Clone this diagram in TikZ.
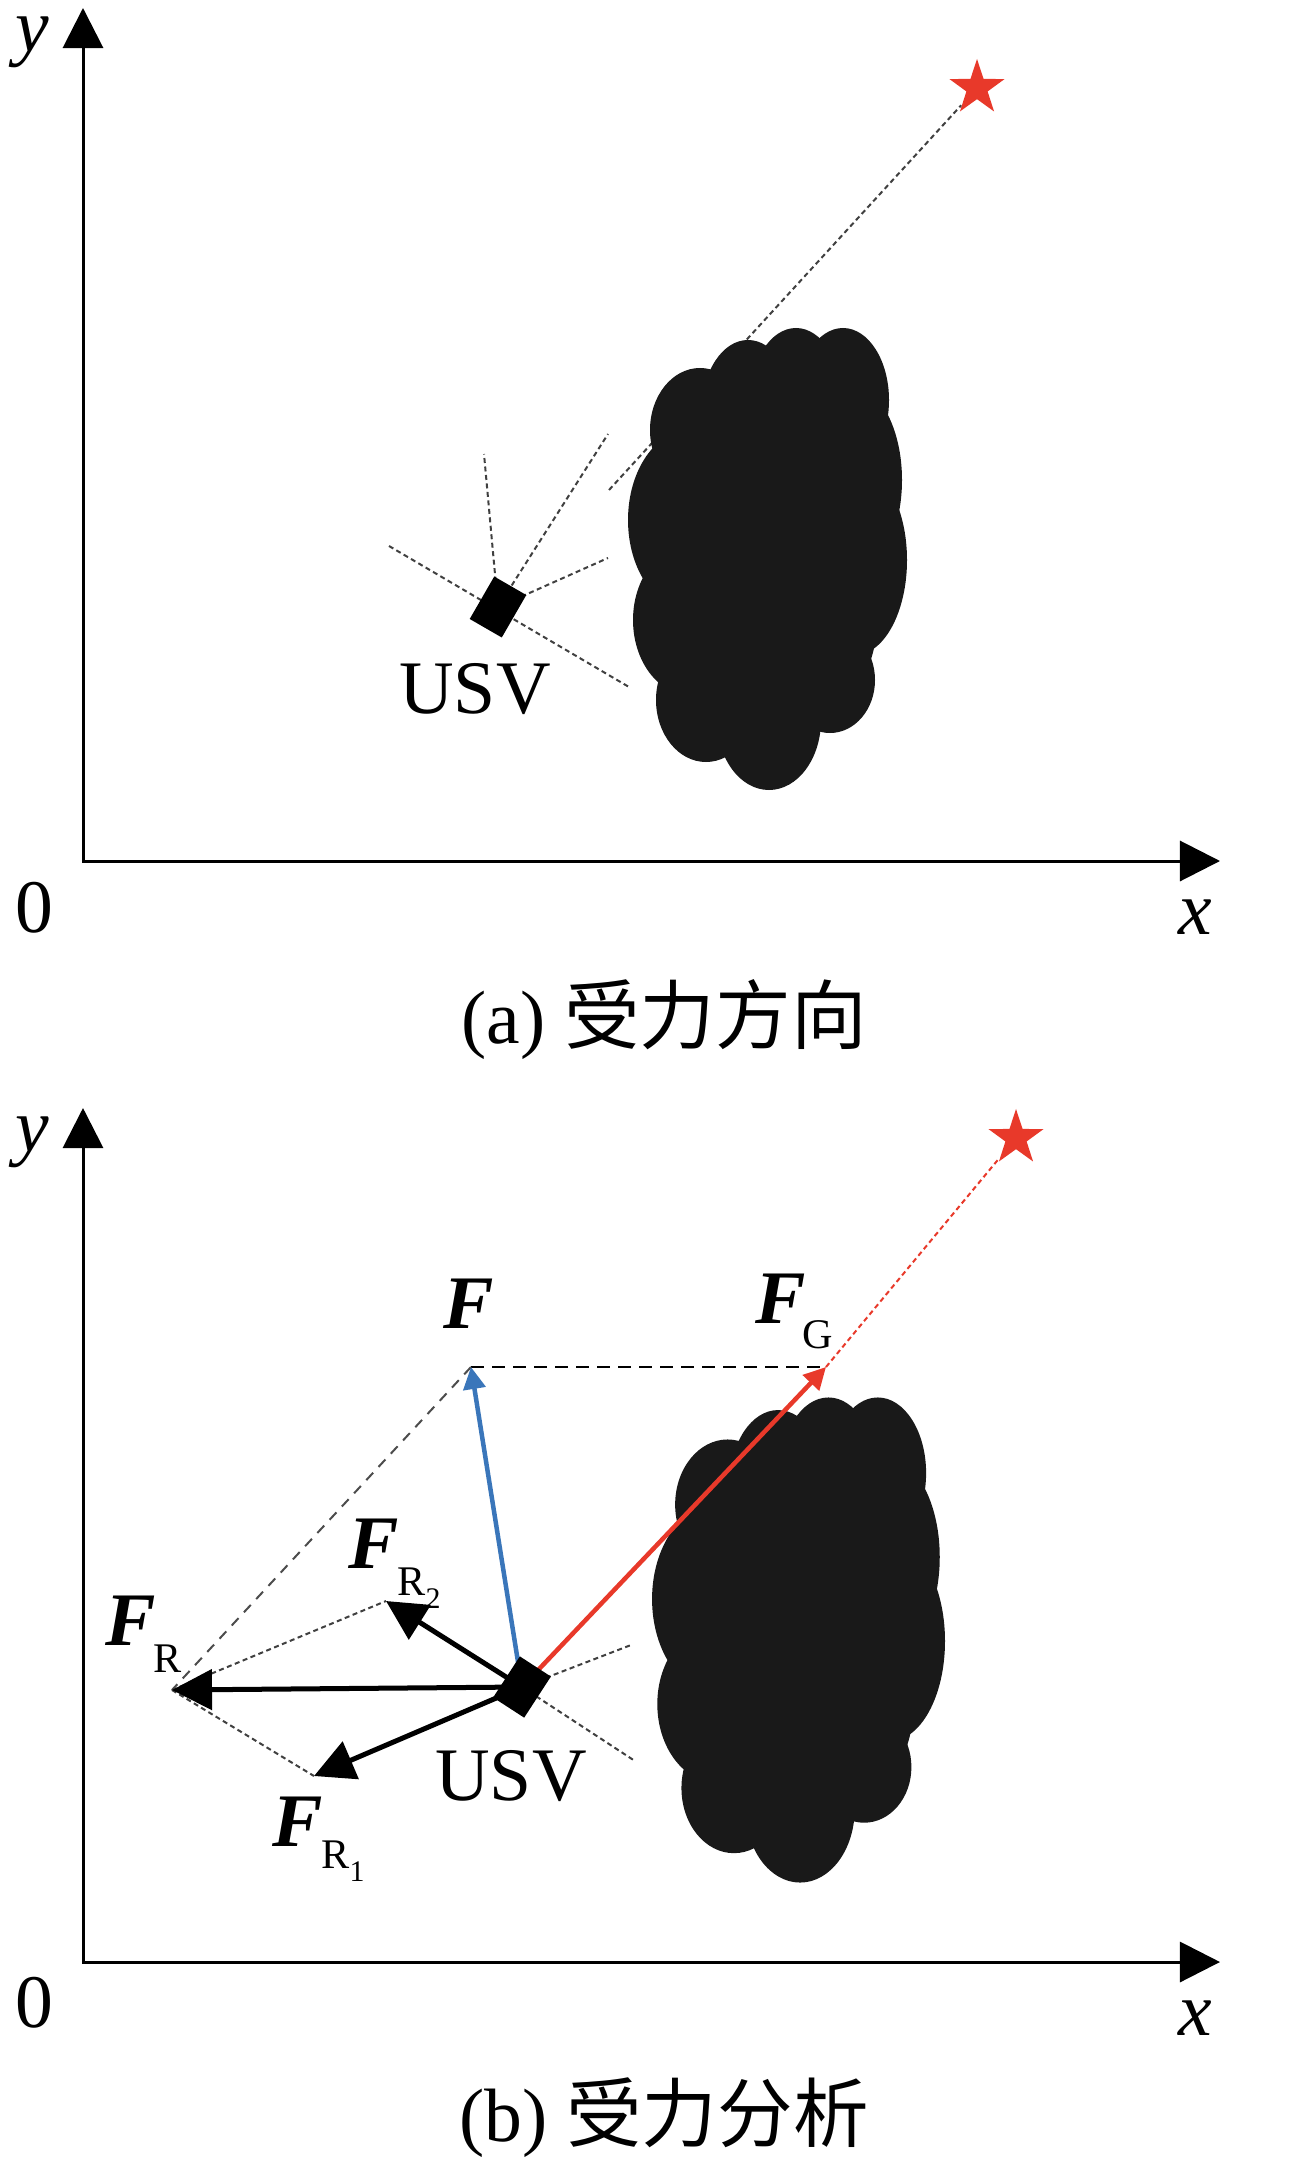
\documentclass[tikz,border=0pt]{standalone}
\usepackage{fontspec}
\setmainfont{Liberation Serif}
\newfontfamily\cjk{Noto Sans CJK SC}
\usetikzlibrary{arrows.meta,shapes.geometric}
\definecolor{goalred}{RGB}{232,57,42}
\definecolor{forceblue}{RGB}{58,118,186}
\tikzset{
  axis/.style={line width=0.03cm,{Triangle[length=0.4cm,width=0.4cm]}-{Triangle[length=0.4cm,width=0.4cm]}},
  lbl/.style={inner sep=0pt,font=\fontsize{21.5}{26}\selectfont},
  sublbl/.style={inner sep=0pt,font=\fontsize{12}{14}\selectfont},
  usvbox/.style={fill=black,inner sep=0pt,minimum width=0.37cm,minimum height=0.49cm},
  goal/.style={star,star points=5,star point ratio=2.6,fill=goalred,inner sep=0pt,minimum size=0.58cm},
  ray/.style={line width=0.02cm,black!75,dash pattern=on 0.05cm off 0.035cm},
  guide/.style={line width=0.02cm,dash pattern=on 0.13cm off 0.08cm},
  force/.style={line width=0.05cm,-{Triangle[length=0.4cm,width=0.4cm]}},
  thinforce/.style={line width=0.045cm,-{Triangle[length=0.22cm,width=0.22cm]}},
  obstacle/.pic={
    \foreach \cx/\cy/\rx/\ry in {-67/-129/50/62,-19/-149/46/70,29/-159/46/72,76/-159/46/72,
        83/-79/52/95,88/1/52/95,63/61/47/80,63/121/45/53,2/161/52/70,-61/141/50/62,
        -77/61/57/75,-77/-39/62/90,-2/1/110/180}
      \fill[black!90] (\cx,\cy) ellipse [x radius=\rx,y radius=\ry];
  }
}
\begin{document}
\begin{tikzpicture}[x=0.01cm,y=-0.01cm]
\useasboundingbox (0,0) rectangle (1299,2173);

% (a)
\coordinate (Oa) at (83,861);
\coordinate (ya) at (83,8);
\coordinate (xa) at (1220,861);
\draw[axis] (ya) -- (Oa) -- (xa);
\node[lbl] (ylbla) at (32,42) {\itshape y};
\node[lbl] (zeroa) at (34,908) {0};
\node[lbl] (xlbla) at (1195,917) {\itshape x};

\coordinate (usvposa) at (498,607);
\coordinate (rayup) at (484,454);
\coordinate (rayur) at (608,434);
\coordinate (rayr) at (608,558);
\coordinate (rayul) at (389,546);
\coordinate (raydr) at (629,687);
\coordinate (gapa) at (609,490);
\node[goal] (stara) at (977,88) {};

\draw[ray] (gapa) -- (stara);
\draw[ray] (usvposa) -- (rayup);
\draw[ray] (usvposa) -- (rayur);
\draw[ray] (usvposa) -- (rayr);
\draw[ray] (rayul) -- (raydr);
\pic at (767,559) {obstacle};
\node[usvbox,rotate=-30] (usva) at (usvposa) {};
\node[lbl] (usvlbla) at (475,689) {USV};
\node[lbl] (capa) at (664,1020) {(a) {\cjk 受力方向}};

% (b)
\coordinate (Ob) at (83,1962);
\coordinate (yb) at (83,1108);
\coordinate (xb) at (1220,1962);
\draw[axis] (yb) -- (Ob) -- (xb);
\node[lbl] (ylblb) at (32,1142) {\itshape y};
\node[lbl] (zerob) at (34,2003) {0};
\node[lbl] (xlblb) at (1195,2018) {\itshape x};

\pic[scale=1.05] at (798,1640) {obstacle};

\coordinate (usvposb) at (522,1687);
\coordinate (tipF) at (471,1367);
\coordinate (tipFG) at (826,1367);
\coordinate (tipFR) at (172,1690);
\coordinate (tipFRa) at (314,1776);
\coordinate (tipFRb) at (386,1601);
\coordinate (rayrb) at (631,1645);
\coordinate (raydrb) at (635,1761);
\node[goal] (starb) at (1016,1138) {};

\draw[guide] (tipF) -- (tipFG);
\draw[guide,black!70,dash pattern=on 0.1cm off 0.08cm] (tipF) -- (tipFR);
\draw[ray] (tipFR) -- (tipFRb);
\draw[ray] (tipFR) -- (tipFRa);
\draw[ray,goalred] (tipFG) -- (starb);
\draw[ray] (usvposb) -- (rayrb);
\draw[ray] (usvposb) -- (raydrb);

\draw[force] (usvposb) -- (tipFR);
\draw[force] (usvposb) -- (tipFRa);
\draw[force] (usvposb) -- (tipFRb);
\draw[thinforce,forceblue] (usvposb) -- (tipF);
\draw[thinforce,goalred] (usvposb) -- (tipFG);
\node[usvbox,rotate=-33] (usvb) at (usvposb) {};

\node[lbl] (lblF) at (469,1304) {\bfseries\itshape F};
\node[lbl] (lblFG) at (781,1299) {\bfseries\itshape F};
\node[sublbl] (lblFGs) at (818,1335) {G};
\node[lbl] (lblFRb) at (374,1544) {\bfseries\itshape F};
\node[sublbl] (lblFRbs) at (419,1588) {R\raisebox{-0.3em}{\fontsize{8.5}{9}\selectfont 2}};
\node[lbl] (lblFR) at (131,1621) {\bfseries\itshape F};
\node[sublbl] (lblFRs) at (168,1659) {R};
\node[lbl] (lblFRa) at (298,1822) {\bfseries\itshape F};
\node[sublbl] (lblFRas) at (343,1861) {R\raisebox{-0.3em}{\fontsize{8.5}{9}\selectfont 1}};
\node[lbl] (usvlblb) at (511,1776) {USV};
\node[lbl] (capb) at (664,2118) {(b) {\cjk 受力分析}};
\end{tikzpicture}
\end{document}
